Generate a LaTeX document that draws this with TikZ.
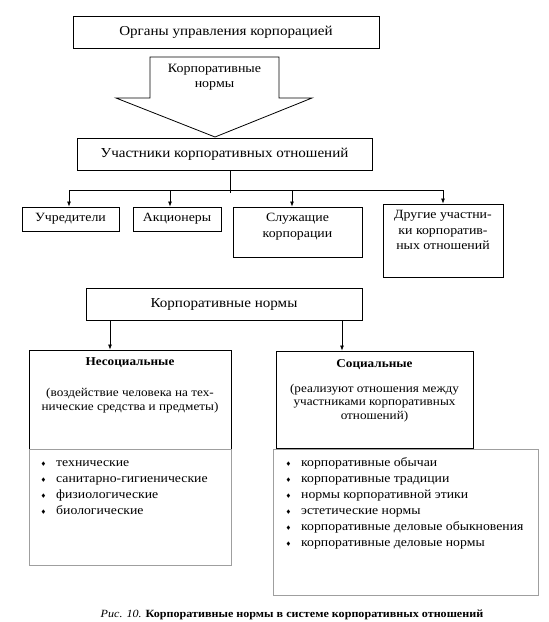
\documentclass[tikz,border=0pt]{standalone}
\usepackage{amssymb}
\usepackage{fontspec}
\setmainfont{Liberation Serif}[FakeStretch=1.1]
\usetikzlibrary{arrows.meta}

\newcommand{\bul}{\makebox[15pt][l]{\raisebox{0.8pt}{\tiny$\blacklozenge$}}}

\begin{document}
\begin{tikzpicture}[x=1pt,y=-1pt,
    box/.style={draw,line width=0.9pt,align=center,
        font=\fontsize{13.7}{16}\selectfont},
    smallbox/.style={box,font=\fontsize{12.6}{15.5}\selectfont},
    listbox/.style={draw=gray!75,line width=0.8pt},
    txt/.style={align=center,inner sep=0pt,
        font=\fontsize{12.6}{15.5}\selectfont},
    para/.style={align=center,inner sep=0pt,
        font=\fontsize{12}{14}\selectfont},
    item/.style={inner sep=0pt,anchor=base west,
        font=\fontsize{12.5}{16}\selectfont},
    arr/.style={-{Latex[length=5pt,width=4pt]},line width=0.7pt}]
    \useasboundingbox (0,0) rectangle (549,622);
    %% Upper part
    \node[box,minimum width=306,minimum height=32] (organs) at (226,32)
        {Органы управления корпорацией};
    \draw[line width=0.8pt] (150,57) -- (279,57) -- (279,98) -- (312,98)
        -- (215,137) -- (116,98) -- (150,98) -- cycle;
    \node[txt,font=\fontsize{12.7}{15}\selectfont] (normsarrow) at (214.5,77.5)
        {Корпоративные\\нормы};
    \node[box,minimum width=295,minimum height=32] (members) at (224.5,154)
        {Участники корпоративных отношений};
    %% Participants
    \node[smallbox,minimum width=97,minimum height=24] (founders) at (70.5,219)
        {Учредители};
    \node[smallbox,minimum width=88,minimum height=24] (holders) at (177,219)
        {Акционеры};
    \node[box,minimum width=129,minimum height=50] (staff) at (297.5,232) {};
    \node[txt,anchor=north] (stafftxt) at ([yshift=-6.9]staff.north)
        {Служащие\\корпорации};
    \node[box,minimum width=120,minimum height=73] (others) at (443,240.5) {};
    \node[txt,anchor=north] (otherstxt) at ([yshift=-6.9]others.north)
        {Другие участни-\\ки корпоратив-\\ных отношений};
    \coordinate (bus) at (230,190);
    \draw[line width=0.7pt] (members.south -| bus) -- ([yshift=-3]bus);
    \draw[line width=0.7pt] ([xshift=-1.5]founders.north |- bus) -- (others.north |- bus);
    \draw[arr] ([xshift=-1.5]founders.north |- bus) -- ([xshift=-1.5]founders.north);
    \draw[arr] ([xshift=-7]holders.north |- bus) -- ([xshift=-7]holders.north);
    \draw[arr] ([xshift=-5.5]staff.north |- bus) -- ([xshift=-5.5]staff.north);
    \draw[arr] (others.north |- bus) -- (others.north);
    %% Lower part
    \node[box,minimum width=276,minimum height=32] (norms) at (224,304)
        {Корпоративные нормы};
    \node[box,minimum width=202,minimum height=99] (nonsoc) at (130,399.5) {};
    \node[para,anchor=north] (nonsoctxt) at ([yshift=-7.4]nonsoc.north)
        {\textbf{Несоциальные}\\[17pt]
        (воздействие человека на тех-\\нические средства и предметы)};
    \node[box,minimum width=197,minimum height=97] (soc) at (374.5,399.5) {};
    \node[para,anchor=north,font=\fontsize{12}{13.5}\selectfont] (soctxt)
        at ([yshift=-8.4]soc.north)
        {\textbf{Социальные}\\[11.5pt]
        (реализуют отношения между\\участниками корпоративных\\отношений)};
    \coordinate (leftdrop) at (110,0);
    \coordinate (rightdrop) at (342,0);
    \draw[arr] (norms.south -| leftdrop) -- (nonsoc.north -| leftdrop);
    \draw[arr] (norms.south -| rightdrop) -- (soc.north -| rightdrop);
    %% Lists
    \node[listbox,minimum width=202,minimum height=116,anchor=north]
        (nonsoclist) at (nonsoc.south) {};
    \foreach \t [count=\i] in {технические,санитарно-гигиенические,
        физиологические,биологические}
        \node[item] (nsitem\i) at (41,450+\i*16) {\bul\t};
    \node[listbox,minimum width=265,minimum height=146] (soclist) at (405.5,522) {};
    \foreach \t [count=\i] in {корпоративные обычаи,корпоративные традиции,
        нормы корпоративной этики,эстетические нормы,
        корпоративные деловые обыкновения,корпоративные деловые нормы}
        \node[item] (sitem\i) at (286,450+\i*16) {\bul\t};
    %% Caption
    \node[anchor=base,inner sep=0pt,font=\fontsize{11}{12}\selectfont] (caption)
        at (292,617.5)
        {\textit{Рис. 10.} \textbf{Корпоративные нормы в системе корпоративных отношений}};
\end{tikzpicture}
\end{document}
